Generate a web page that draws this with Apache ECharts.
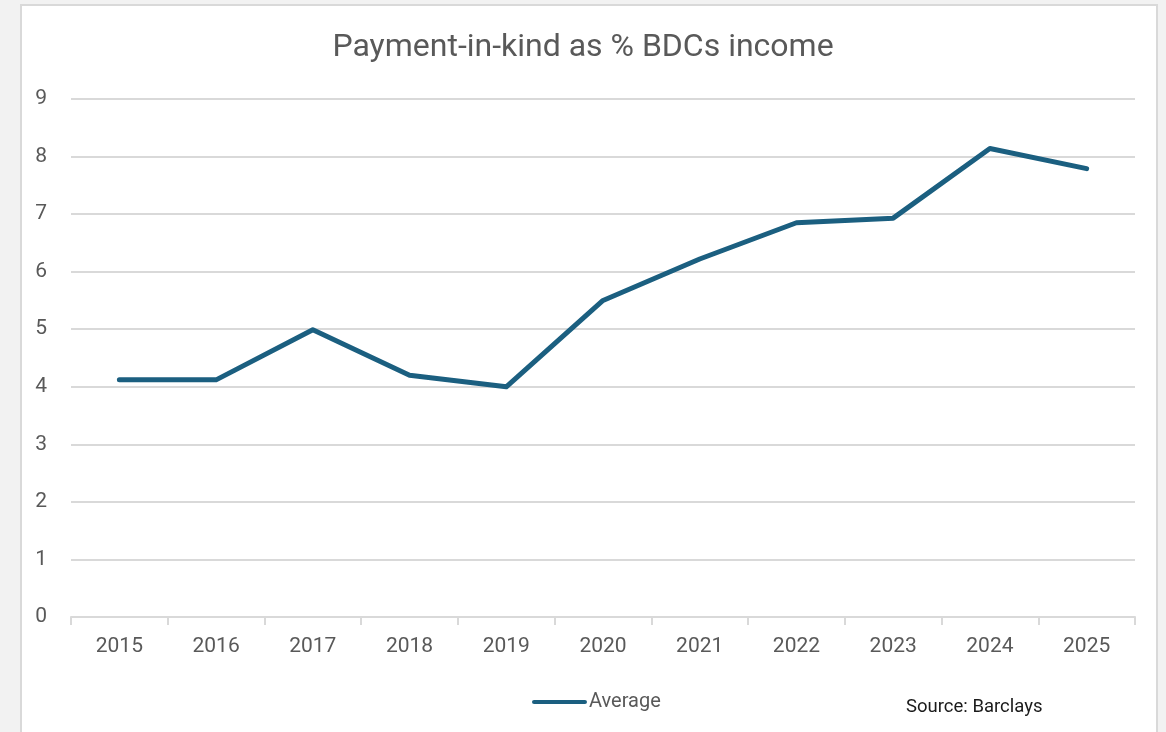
<!DOCTYPE html>
<html>
<head>
<meta charset="utf-8">
<script src="https://cdn.jsdelivr.net/npm/echarts@6/dist/echarts.min.js"></script>
<style>
  html, body { margin: 0; padding: 0; background: #f2f2f2; }
  #frame {
    position: absolute; left: 20px; top: 4px; width: 1138px; height: 740px;
    background: #fff; border: 2px solid #d9d9d9; box-sizing: border-box;
  }
  #chart { position: absolute; left: 0; top: 0; width: 1166px; height: 732px; }
</style>
</head>
<body>
<div id="frame"></div>
<div id="chart"></div>
<script>
  // data
  const years = ['2015', '2016', '2017', '2018', '2019', '2020', '2021', '2022', '2023', '2024', '2025'];
  const average = [4.12, 4.12, 4.99, 4.2, 4.0, 5.5, 6.22, 6.85, 6.93, 8.14, 7.79];
  const yTicks = [0, 1, 2, 3, 4, 5, 6, 7, 8, 9];

  const myChart = echarts.init(document.getElementById('chart'));
  myChart.setOption({
    backgroundColor: 'transparent',
    title: {
      text: 'Payment-in-kind as % BDCs income',
      left: 'center',
      top: 27,
      textStyle: { color: '#595959', fontSize: 32, fontWeight: 'normal', fontFamily: 'Roboto' }
    },
    grid: { left: 71, right: 31, top: 99, bottom: 115 },
    legend: {
      data: ['Average'],
      left: 527,
      top: 687,
      icon: 'path://M2,0 L52,0 A2,2 0 0 1 52,4 L2,4 A2,2 0 0 1 2,0 Z',
      itemWidth: 55,
      itemHeight: 5,
      itemGap: 2,
      textStyle: { color: '#595959', fontSize: 20, fontFamily: 'Roboto', padding: [0, 0, 0, -3] }
    },
    graphic: [{
      type: 'text',
      left: 906,
      top: 698,
      style: { text: 'Source: Barclays', fill: '#1a1a1a', fontSize: 18.5, fontFamily: 'Roboto' }
    }],
    xAxis: {
      type: 'category',
      data: years,
      boundaryGap: true,
      axisLine: { lineStyle: { color: '#d9d9d9', width: 2 } },
      axisTick: { show: true, length: 8, lineStyle: { color: '#d9d9d9', width: 2 } },
      axisLabel: { color: '#595959', fontSize: 21, margin: 19, fontFamily: 'Roboto' }
    },
    yAxis: {
      type: 'value',
      min: yTicks[0],
      max: yTicks[yTicks.length - 1],
      interval: 1,
      axisLine: { show: false },
      axisTick: { show: false },
      axisLabel: { color: '#595959', fontSize: 21, margin: 24, fontFamily: 'Roboto' },
      splitLine: { lineStyle: { color: '#d9d9d9', width: 2 } }
    },
    series: [{
      name: 'Average',
      type: 'line',
      data: average,
      symbol: 'none',
      color: '#1b5f80',
      lineStyle: { color: '#1b5f80', width: 5, cap: 'round', join: 'round' }
    }]
  });

  window.addEventListener('resize', () => {
    myChart.resize();
  });
</script>
</body>
</html>
